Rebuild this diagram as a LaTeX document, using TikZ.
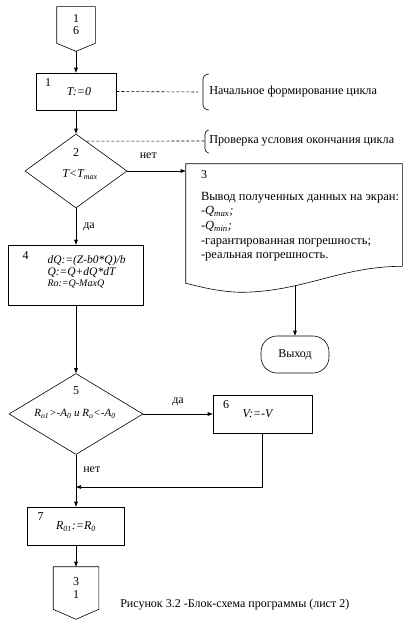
\documentclass[tikz,border=0pt]{standalone}
\usepackage{fontspec}
\setmainfont{Liberation Serif}
\usetikzlibrary{positioning, shapes.geometric, arrows.meta, calc}

\begin{document}
\begin{tikzpicture}[
    x=1pt, y=-1pt, line width=0.6pt,
    font=\fontsize{12}{14.7}\selectfont,
    block/.style={draw=black, rectangle, inner sep=0pt},
    decision/.style={draw=black, diamond, inner sep=0pt},
    term/.style={draw=black, rectangle, rounded corners=16pt, inner sep=0pt},
    plain/.style={inner sep=0pt},
    edge/.style={-{Triangle[length=5pt, width=3.6pt]}},
    note/.style={densely dashed},
    notetext/.style={inner sep=0pt, anchor=west, font=\fontsize{12.2}{14}\selectfont},
    num/.style={inner sep=0pt, anchor=north west},
    varlabel/.style={inner sep=0pt},
    formula/.style={inner sep=0pt, font=\fontsize{12}{12}\selectfont\itshape}
]
\useasboundingbox (0,0) rectangle (411,626);

% Verbindungsstelle oben
\node[plain, minimum width=38pt, minimum height=36pt, align=center, font=\fontsize{12}{12}\selectfont] (in) at (76,25) {1\\6};
\coordinate (intip) at ($(in.south)+(0,8)$);
\draw (in.north west) -- (in.north east) -- (in.south east) -- (intip) -- (in.south west) -- cycle;

% Bloecke 1 bis 3
\node[block, minimum width=80pt, minimum height=37pt] (b1) at (76,91.5) {};
\node[num] at ([shift={(9,6)}]b1.north west) {1};
\node[formula] at ($(b1)+(3,0)$) {T:=0};

\node[decision, minimum width=102pt, minimum height=74pt] (d2) at (76,171) {};
\node[varlabel] at ($(d2.north)+(0,19)$) {2};
\node[formula] at ($(d2)+(4,4)$) {T<T\textsubscript{max}};

\node[plain, minimum width=216pt, minimum height=102pt] (doc3) at (294,215) {};
\draw (doc3.north west) -- (doc3.north east) -- (doc3.south east)
    .. controls ($(doc3.south east)+(-62,0)$) and ($(doc3.south east)+(-100,26)$)
    .. coordinate[pos=0.67] (w3) ($(doc3.south west)+(54,26)$)
    .. controls ($(doc3.south west)+(28,25)$) and ($(doc3.south west)+(10,19)$) .. ($(doc3.south west)+(0,17)$)
    -- cycle;
\node[num] at ([shift={(15,7)}]doc3.north west) {3};
\node[plain, anchor=north west, align=left, font=\fontsize{12.5}{14.7}\selectfont] (t3) at ([shift={(15,28)}]doc3.north west)
    {Вывод полученных данных на экран:\\
     -\textit{Q\textsubscript{max};}\\
     -\textit{Q\textsubscript{min};}\\
     -гарантированная погрешность;\\
     -реальная погрешность.};

\node[term, minimum width=68pt, minimum height=37pt] (ex) at (295,354.5) {Выход};

% Bloecke 4 bis 7
\node[block, minimum width=135pt, minimum height=60pt] (b4) at (76,275) {};
\node[num] at ([shift={(14,7)}]b4.north west) {4};
\node[formula, anchor=north west, align=left, font=\fontsize{11.5}{11.5}\selectfont\itshape] (f4) at ([shift={(39,11)}]b4.north west)
    {dQ:=(Z-b0*Q)/b\\Q:=Q+dQ*dT\\{\fontsize{10}{10}\selectfont Ro:=Q-MaxQ}};

\node[decision, minimum width=134pt, minimum height=81pt] (d5) at (76,414) {};
\node[varlabel] at ($(d5.north)+(0,17)$) {5};
\node[formula, font=\fontsize{11}{11}\selectfont\itshape] at ($(d5)+(-1,0)$)
    {R\textsubscript{o1}>-A\textsubscript{0} и R\textsubscript{o}<-A\textsubscript{0}};

\node[block, minimum width=99pt, minimum height=38pt] (b6) at (262.5,414) {};
\node[num] at ([shift={(10,6)}]b6.north west) {6};
\node[formula] at ($(b6)+(-5,0)$) {V:=-V};

\coordinate (j) at (76,487);

\node[block, minimum width=97pt, minimum height=38pt] (b7) at (76,526) {};
\node[num] at ([shift={(10,6)}]b7.north west) {7};
\node[formula] at ($(b7)+(0,1)$) {R\textsubscript{01}:=R\textsubscript{0}};

% Verbindungsstelle unten
\node[plain, minimum width=45pt, minimum height=42pt, align=center, font=\fontsize{12}{13}\selectfont] (out) at (76,588) {3\\1};
\coordinate (outtip) at ($(out.south)+(0,10)$);
\draw (out.north west) -- (out.north east) -- (out.south east) -- (outtip) -- (out.south west) -- cycle;

% Kommentare
\node[notetext] (n1) at (209,92) {Начальное формирование цикла};
\node[notetext] (n2) at (209,141) {Проверка условия окончания цикла};
\draw[rounded corners=4pt] ($(n1.west)+(0,-18)$) -- ($(n1.west)+(-6,-17)$) -- ($(n1.west)+(-6,17)$) -- ($(n1.west)+(0,18)$);
\draw[rounded corners=3pt] ($(n2.west)+(0,-11)$) -- ($(n2.west)+(-4,-10)$) -- ($(n2.west)+(-4,11)$) -- ($(n2.west)+(0,12)$);
\draw[note] (b1.east) -- ($(n1.west)+(-11,0)$);
\draw[note] ($(d2.north)!0.2!(d2.east)$) -- ($(n2.west)+(-4,0)$);

% Kanten
\draw[edge] (intip) -- (b1.north);
\draw[edge] (b1.south) -- (d2.north);
\draw[edge] (d2.east) -- (d2.east -| doc3.west) node[pos=0.36, above=12pt, varlabel] {нет};
\draw[edge] (ex.north |- w3) -- (ex.north);
\draw[edge] (d2.south) -- (b4.north) node[midway, right=7pt, varlabel] {да};
\draw[edge] (b4.south) -- (d5.north);
\draw[edge] (d5.east) -- (b6.west) node[midway, above=8pt, varlabel] {да};
\draw[edge] (b6.south) -- (b6.south |- j) -- (j);
\draw[edge] (d5.south) -- (b7.north) node[pos=0.28, right=7pt, varlabel] {нет};
\draw[edge] (b7.south) -- (out.north);

% Unterschrift
\node[plain, anchor=west] (cap) at (120,605) {Рисунок 3.2 -Блок-схема программы (лист 2)};

\end{tikzpicture}
\end{document}
